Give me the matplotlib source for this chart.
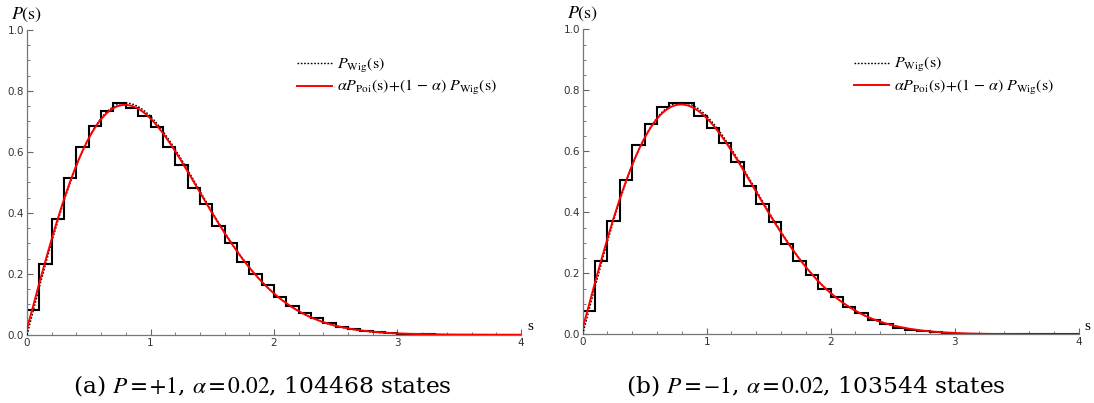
# -*- coding: utf-8 -*-
"""Level spacing histograms vs. Wigner surmise (two parity sectors)."""

import numpy as np
import matplotlib
matplotlib.use("Agg")
import matplotlib.pyplot as plt

# ---- data ----
bin_edges = np.round(np.arange(0, 4.0001, 0.1), 2)

hist_plus = [0.082, 0.233, 0.381, 0.514, 0.617, 0.685, 0.734, 0.760, 0.745, 0.718,
             0.683, 0.617, 0.557, 0.483, 0.430, 0.358, 0.300, 0.239, 0.199, 0.163,
             0.125, 0.096, 0.071, 0.055, 0.038, 0.027, 0.019, 0.013, 0.009, 0.006,
             0.004, 0.003, 0.002, 0.001, 0.001, 0.0005, 0.0003, 0.0002, 0.0001, 0.0001]

hist_minus = [0.078, 0.241, 0.371, 0.508, 0.622, 0.690, 0.747, 0.760, 0.760, 0.717,
              0.678, 0.629, 0.567, 0.487, 0.428, 0.370, 0.297, 0.240, 0.196, 0.150,
              0.124, 0.090, 0.069, 0.046, 0.035, 0.022, 0.016, 0.011, 0.008, 0.005,
              0.003, 0.002, 0.0015, 0.001, 0.0007, 0.0004, 0.0003, 0.0002, 0.0001, 0.0001]

alpha_mix = 0.02
captions = [r"(a) $P=+1$, $\alpha=0.02$, 104468 states",
            r"(b) $P=-1$, $\alpha=0.02$, 103544 states"]


def p_wig(s):
    return 0.5 * np.pi * s * np.exp(-np.pi * s ** 2 / 4.0)


def p_poi(s):
    return np.exp(-s)


def draw_panel(ax, values):
    s = np.linspace(0, 4, 600)
    ax.stairs(values, bin_edges, color="k", lw=1.5, zorder=2)
    ax.plot(s, p_wig(s), color="k", ls=(0, (1.2, 1.2)), lw=1.0, zorder=3,
            label=r"$P_{\mathrm{Wig}}(\mathrm{s})$")
    ax.plot(s, alpha_mix * p_poi(s) + (1 - alpha_mix) * p_wig(s), color="#ff0000",
            lw=1.4, zorder=4,
            label=r"$\alpha P_{\mathrm{Poi}}(\mathrm{s}){+}(1\,-\,\alpha)\;P_{\mathrm{Wig}}(\mathrm{s})$")

    ax.set_xlim(0, 4)
    ax.set_ylim(0, 1.0)
    for side in ("top", "right"):
        ax.spines[side].set_visible(False)
    for side in ("left", "bottom"):
        ax.spines[side].set_color("#777777")
        ax.spines[side].set_linewidth(0.9)

    ax.set_xticks([0, 1, 2, 3, 4])
    ax.set_xticklabels(["0", "1", "2", "3", "4"])
    ax.set_xticks(np.arange(0, 4.01, 0.2), minor=True)
    ax.set_yticks([0.0, 0.2, 0.4, 0.6, 0.8, 1.0])
    ax.set_yticklabels(["0.0", "0.2", "0.4", "0.6", "0.8", "1.0"])
    ax.set_yticks(np.arange(0, 1.001, 0.05), minor=True)
    ax.tick_params(which="both", direction="in", color="#666666", labelsize=7.5,
                   labelcolor="#333333", pad=2)
    ax.tick_params(which="major", length=4, width=0.8)
    ax.tick_params(which="minor", length=2, width=0.6)

    ax.text(0.0, 1.05, r"$P(\mathrm{s})$", transform=ax.transAxes, ha="center",
            va="center", fontsize=13, math_fontfamily="stix")
    ax.text(1.012, 0.005, "s", transform=ax.transAxes, ha="left", va="bottom",
            fontsize=11, family="Liberation Serif")

    leg = ax.legend(loc="upper left", bbox_to_anchor=(0.547, 0.915), frameon=False,
                    borderpad=0, borderaxespad=0, handlelength=2.2, handletextpad=0.3,
                    labelspacing=0.22, prop={"size": 11.5})
    for t in leg.get_texts():
        t.set_math_fontfamily("stix")


fig = plt.figure(figsize=(10.94, 4.03), dpi=100)
ax_a = fig.add_axes([0.0247, 0.169, 0.4515, 0.757])
ax_b = fig.add_axes([0.5326, 0.170, 0.4534, 0.757])

draw_panel(ax_a, hist_plus)
draw_panel(ax_b, hist_minus)

fig.text(262 / 1094, 1 - 385 / 403, captions[0], ha="center", va="center",
         fontsize=16.8, family="DejaVu Serif", math_fontfamily="stix")
fig.text(816 / 1094, 1 - 385 / 403, captions[1], ha="center", va="center",
         fontsize=16.8, family="DejaVu Serif", math_fontfamily="stix")

fig.savefig("out.png", dpi=100)
plt.close(fig)
